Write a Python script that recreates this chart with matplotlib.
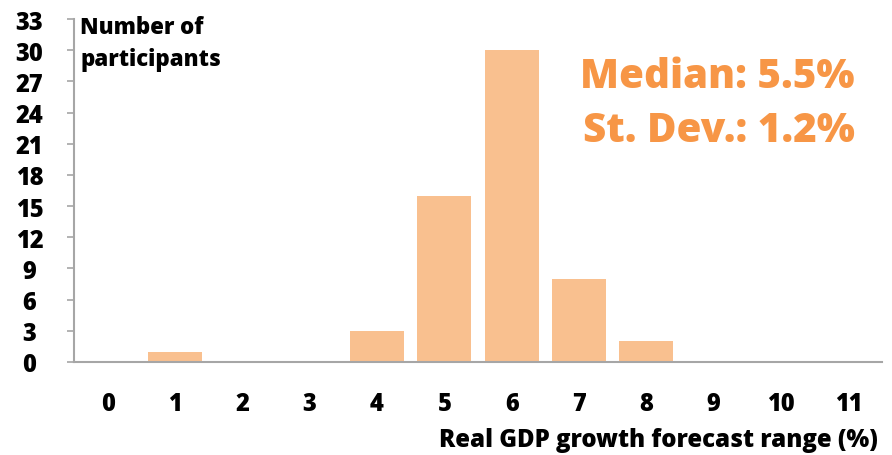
import matplotlib
matplotlib.use("Agg")
import matplotlib.pyplot as plt

categories = [str(i) for i in range(12)]
counts = [0, 1, 0, 0, 3, 16, 30, 8, 2, 0, 0, 0]
yticks = list(range(0, 34, 3))
median_text = "Median: 5.5%"
sd_text = "St. Dev.: 1.2%"

plt.rcParams['font.family'] = ['Open Sans', 'DejaVu Sans']
fig = plt.figure(figsize=(8.92, 4.56), dpi=100)
ax = fig.add_axes([74/892, 1-363/456, (882-74)/892, (363-20)/456])
x = list(range(len(categories)))
ax.bar(x, counts, width=0.8, color='#F9C08F', zorder=2)
ax.set_xlim(-0.5, len(categories)-0.5)
ax.set_ylim(0, 33)
ax.set_yticks(yticks)
ax.set_yticklabels([str(v) for v in yticks], fontsize=17, fontweight='heavy')
ax.set_xticks(x)
ax.set_xticklabels(categories, fontsize=17, fontweight='heavy')
ax.tick_params(axis='x', length=0, pad=21)
ax.tick_params(axis='y', length=5, color='#A6A6A6', width=1.2)
for s in ['top', 'right']:
    ax.spines[s].set_visible(False)
for s in ['left', 'bottom']:
    ax.spines[s].set_color('#A6A6A6')
    ax.spines[s].set_linewidth(1.5)
for lab in ax.get_yticklabels():
    lab.set_horizontalalignment('center')
ax.tick_params(axis='y', pad=27)

fig.text(80/892, 1-44/456, "Number of\nparticipants", fontsize=16, fontweight='heavy',
         ha='left', va='center', linespacing=1.45)
fig.text(878/892, 1-441/456, "Real GDP growth forecast range (%)", fontsize=17.3,
         fontweight='heavy', ha='right', va='center')
fig.text(855/892, 1-77/456, median_text, fontsize=29, fontweight='heavy',
         color='#F79646', ha='right', va='center')
fig.text(855/892, 1-132/456, sd_text, fontsize=29, fontweight='heavy',
         color='#F79646', ha='right', va='center')
fig.savefig("out.png", dpi=100)
